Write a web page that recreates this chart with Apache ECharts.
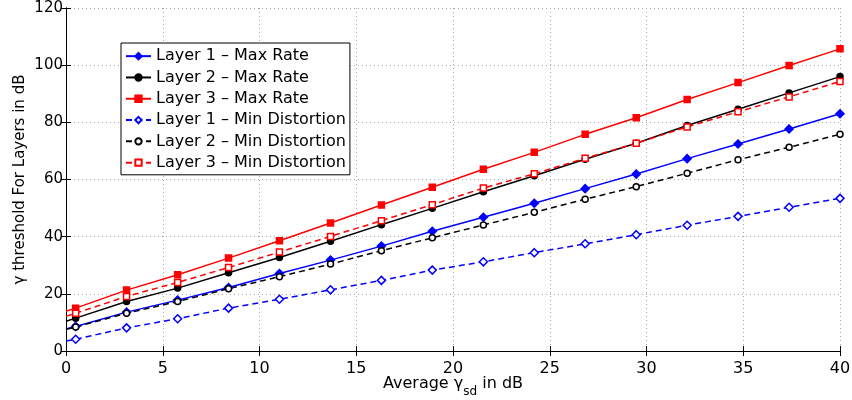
<!DOCTYPE html>
<html>
<head>
<meta charset="utf-8">
<script src="https://cdn.jsdelivr.net/npm/echarts@6/dist/echarts.min.js"></script>
<style>html,body{margin:0;padding:0;background:#fff;}#c{width:852px;height:400px;}</style>
</head>
<body>
<div id="c"></div>
<script>
var xValues = [0, 0.5, 3.13, 5.77, 8.4, 11.03, 13.67, 16.3, 18.93, 21.57, 24.2, 26.83, 29.47, 32.1, 34.73, 37.37, 40];
var layer1MaxRate = [7.7, 8.6, 13.6, 17.8, 22.2, 27.1, 31.8, 36.7, 41.9, 46.8, 51.7, 56.8, 61.9, 67.3, 72.4, 77.7, 83.0];
var layer2MaxRate = [10.4, 11.5, 17.3, 22.0, 27.4, 32.7, 38.4, 44.2, 49.9, 55.7, 61.3, 67.1, 72.7, 78.9, 84.6, 90.3, 96.0];
var layer3MaxRate = [13.9, 15.0, 21.3, 26.7, 32.5, 38.6, 44.8, 51.1, 57.3, 63.6, 69.5, 75.8, 81.6, 88.0, 93.9, 99.9, 105.7];
var layer1MinDist = [3.5, 4.1, 8.1, 11.3, 15.0, 18.1, 21.4, 24.7, 28.3, 31.2, 34.4, 37.5, 40.7, 44.0, 47.1, 50.3, 53.4];
var layer2MinDist = [7.6, 8.4, 13.2, 17.3, 21.8, 26.0, 30.4, 35.1, 39.6, 44.1, 48.5, 53.1, 57.5, 62.2, 66.9, 71.3, 75.8];
var layer3MinDist = [12.2, 13.2, 19.1, 24.0, 29.2, 34.6, 40.1, 45.6, 51.2, 57.0, 62.0, 67.4, 72.7, 78.4, 83.7, 88.9, 94.3];
var seriesNames = ['Layer 1 \u2013 Max Rate', 'Layer 2 \u2013 Max Rate', 'Layer 3 \u2013 Max Rate',
                   'Layer 1 \u2013 Min Distortion', 'Layer 2 \u2013 Min Distortion', 'Layer 3 \u2013 Min Distortion'];

var FONT = 'DejaVu Sans';
function pts(ys) {
  return xValues.map(function (x, i) {
    return i === 0 ? { value: [x, ys[i]], symbol: 'none' } : [x, ys[i]];
  });
}
function mk(name, ys, color, symbol, size, dashed) {
  return {
    name: name, type: 'line', data: pts(ys),
    symbol: symbol, symbolSize: size, showAllSymbol: true,
    lineStyle: { color: color, width: 1.5, type: dashed ? [6, 4] : 'solid' },
    itemStyle: { color: dashed ? '#fff' : color, borderColor: color, borderWidth: 1.5 },
    animation: false, z: 3
  };
}
var chart = echarts.init(document.getElementById('c'), null, { renderer: 'canvas' });
var axisCommon = {
  axisLine: { show: true, lineStyle: { color: '#000', width: 1 } },
  axisTick: { show: true, inside: true, length: 5, lineStyle: { color: '#000' } }
};
chart.setOption({
  backgroundColor: '#fff',
  animation: false,
  grid: { left: 66, right: 12, top: 8, bottom: 49, containLabel: false, outerBoundsMode: 'none' },
  legend: {
    left: 121, top: 43, orient: 'vertical',
    backgroundColor: '#fff', borderColor: '#000', borderWidth: 1,
    padding: [5, 4, 4, 4], itemGap: 5, itemWidth: 25, itemHeight: 8,
    textStyle: { fontFamily: FONT, fontSize: 16, color: '#000', lineHeight: 16.3 },
    data: seriesNames
  },
  xAxis: [
    Object.assign({
      type: 'value', min: 0, max: 40, interval: 5, position: 'bottom',
      name: '{a|Average }{g|\u03b3}{s|sd}{a| in dB}', nameLocation: 'middle', nameGap: 21, nameMoveOverlap: false,
      nameTextStyle: { rich: {
        a: { fontFamily: FONT, fontSize: 16, color: '#000', verticalAlign: 'bottom', lineHeight: 20 },
        g: { fontFamily: FONT, fontSize: 16, color: '#000', verticalAlign: 'bottom', lineHeight: 20 },
        s: { fontFamily: FONT, fontSize: 12, color: '#000', verticalAlign: 'bottom', lineHeight: 20, padding: [0, 0, -6, 0] }
      } },
      axisLabel: { fontFamily: FONT, fontSize: 16, color: '#000', margin: 10 },
      splitLine: { show: true, lineStyle: { color: '#aaa', type: [1, 3], width: 1 } }
    }, axisCommon),
    Object.assign({
      type: 'value', min: 0, max: 40, interval: 5, position: 'top',
      axisLabel: { show: false }, splitLine: { show: false }
    }, axisCommon)
  ],
  yAxis: [
    Object.assign({
      type: 'value', min: 0, max: 120, interval: 20, position: 'left',
      name: '\u03b3 threshold For Layers in dB', nameLocation: 'middle', nameGap: 38, nameMoveOverlap: false,
      nameTextStyle: { fontFamily: FONT, fontSize: 15, color: '#000' },
      axisLabel: { fontFamily: FONT, fontSize: 15, color: '#000', margin: 3 },
      splitLine: { show: true, lineStyle: { color: '#aaa', type: [1, 3], width: 1 } }
    }, axisCommon),
    Object.assign({
      type: 'value', min: 0, max: 120, interval: 20, position: 'right',
      axisLabel: { show: false }, splitLine: { show: false }
    }, axisCommon)
  ],
  series: [
    mk(seriesNames[0], layer1MaxRate, '#0000ff', 'diamond', 8, false),
    mk(seriesNames[1], layer2MaxRate, '#000000', 'circle', 6, false),
    mk(seriesNames[2], layer3MaxRate, '#ff0000', 'rect', 6, false),
    mk(seriesNames[3], layer1MinDist, '#0000ff', 'diamond', 8, true),
    mk(seriesNames[4], layer2MinDist, '#000000', 'circle', 6, true),
    mk(seriesNames[5], layer3MinDist, '#ff0000', 'rect', 6, true)
  ]
});
</script>
</body>
</html>
